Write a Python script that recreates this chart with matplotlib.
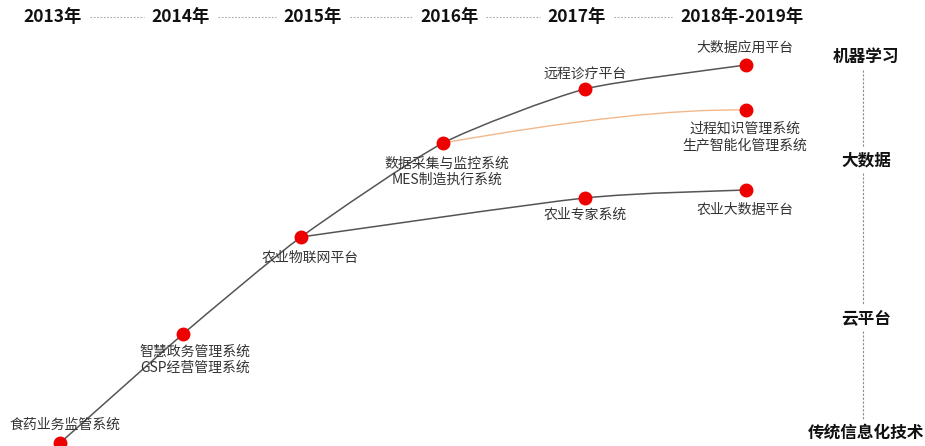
import matplotlib.pyplot as plt
from matplotlib.path import Path
from matplotlib.patches import PathPatch

plt.rcParams['font.family'] = ['Noto Sans CJK SC', 'DejaVu Sans']

# ---------------- datos (coordenadas en la lamina, y hacia abajo) ----------------
years = ['2013年', '2014年', '2015年', '2016年', '2017年', '2018年-2019年']
years_x = [53, 181, 313, 450, 577, 742]
years_span = [(25, 82), (152, 210), (284, 342), (421, 478), (548, 606), (680, 803)]

layers = ['机器学习', '大数据', '云平台', '传统信息化技术']
layers_y = [57, 160, 318, 433]

main_x = [60, 183, 301, 443, 585, 746]
main_y = [443, 334, 237, 143, 89, 65]
main_labels = ['食药业务监管系统', '智慧政务管理系统\nGSP经营管理系统', '农业物联网平台',
               '数据采集与监控系统\nMES制造执行系统', '远程诊疗平台', '大数据应用平台']
main_lab_xy = [(65, 425), (195, 360), (310, 258), (447, 172), (585, 75), (745, 48)]

orange_x = [443, 746]
orange_y = [143, 110]
orange_label = '过程知识管理系统\n生产智能化管理系统'
orange_lab_xy = (745, 137)

agri_x = [301, 585, 746]
agri_y = [237, 198, 190]
agri_labels = ['农业专家系统', '农业大数据平台']
agri_lab_xy = [(585, 215), (745, 210)]


def smooth_path(xs, ys, k=0.18):
    '''curva suave (catmull-rom -> bezier) por los puntos'''
    pts = list(zip(xs, ys))
    verts = [pts[0]]
    codes = [Path.MOVETO]
    n = len(pts)
    for i in range(n - 1):
        p0 = pts[i - 1] if i > 0 else pts[i]
        p1 = pts[i]
        p2 = pts[i + 1]
        p3 = pts[i + 2] if i + 2 < n else pts[i + 1]
        c1 = (p1[0] + (p2[0] - p0[0]) * k, p1[1] + (p2[1] - p0[1]) * k)
        c2 = (p2[0] - (p3[0] - p1[0]) * k, p2[1] - (p3[1] - p1[1]) * k)
        verts += [c1, c2, p2]
        codes += [Path.CURVE4] * 3
    return Path(verts, codes)


fig = plt.figure(figsize=(9.25, 4.46), dpi=100)
ax = fig.add_axes([0, 0, 1, 1])
ax.set_xlim(0, 925)
ax.set_ylim(446, 0)
ax.axis('off')

# encabezado de anios
for lab, x in zip(years, years_x):
    ax.text(x, 17, lab, ha='center', va='center', fontsize=12.5, fontweight='bold', color='#111111')
for i in range(len(years_span) - 1):
    ax.plot([years_span[i][1] + 8, years_span[i + 1][0] - 8], [17, 17],
            color='#a8a8a8', lw=0.8, ls=(0, (1.5, 1.5)))

# capas a la derecha
for lab, y in zip(layers, layers_y):
    ax.text(866, y, lab, ha='center', va='center', fontsize=12, fontweight='bold', color='#111111')
for i in range(len(layers_y) - 1):
    ax.plot([863, 863], [layers_y[i] + 13, layers_y[i + 1] - 13],
            color='#8a8a8a', lw=0.8, ls=(0, (2, 1.5)))

# curvas
ax.add_patch(PathPatch(smooth_path(main_x, main_y, k=0.1), fc='none', ec='#555555', lw=1.1))
ax.add_patch(PathPatch(Path([(orange_x[0], orange_y[0]), (640, 108), (orange_x[1], orange_y[1])],
                            [Path.MOVETO, Path.CURVE3, Path.CURVE3]),
                       fc='none', ec='#f2b88a', lw=1.0))
ax.add_patch(PathPatch(smooth_path(agri_x, agri_y, k=0.12), fc='none', ec='#555555', lw=1.1))

# puntos
ax.plot(main_x, main_y, 'o', color='#ee0000', ms=9, mec='#ee0000', clip_on=False)
ax.plot(orange_x[1:], orange_y[1:], 'o', color='#ee0000', ms=9, mec='#ee0000')
ax.plot(agri_x[1:], agri_y[1:], 'o', color='#ee0000', ms=9, mec='#ee0000')

# etiquetas
lab_kw = dict(ha='center', va='center', fontsize=10, color='#333333', linespacing=1.2)
for lab, (x, y) in zip(main_labels, main_lab_xy):
    ax.text(x, y, lab, **lab_kw)
ax.text(orange_lab_xy[0], orange_lab_xy[1], orange_label, **lab_kw)
for lab, (x, y) in zip(agri_labels, agri_lab_xy):
    ax.text(x, y, lab, **lab_kw)

plt.savefig('out.png', dpi=100)
